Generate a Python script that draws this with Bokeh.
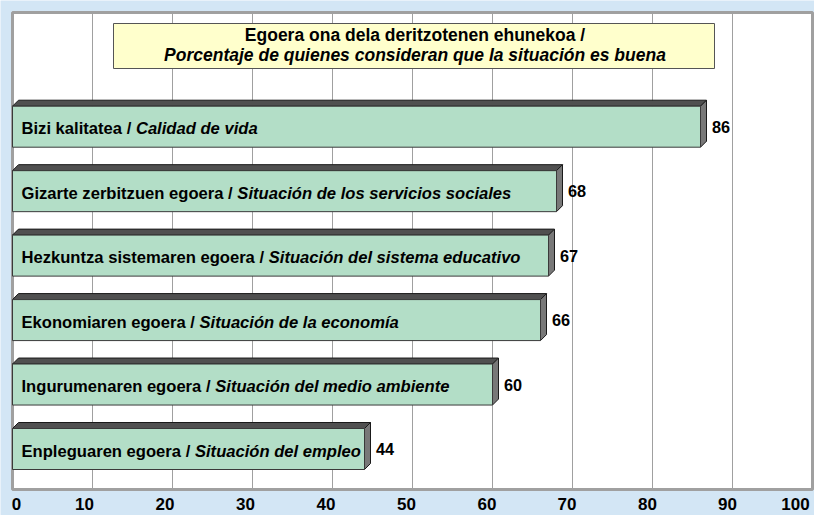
from bokeh.plotting import figure
from bokeh.models import ColumnDataSource, Range1d, Label, BoxAnnotation
from bokeh.core.properties import value
from bokeh.embed import file_html
from bokeh.resources import INLINE

# ---- data ----
labels_eu = ["Enpleguaren egoera", "Ingurumenaren egoera", "Ekonomiaren egoera",
             "Hezkuntza sistemaren egoera", "Gizarte zerbitzuen egoera", "Bizi kalitatea"]
labels_es = ["Situación del empleo", "Situación del medio ambiente", "Situación de la economía",
             "Situación del sistema educativo", "Situación de los servicios sociales", "Calidad de vida"]
percent = [44, 60, 66, 67, 68, 86]
x_ticks = [0, 10, 20, 30, 40, 50, 60, 70, 80, 90, 100]
title_eu = "Egoera ona dela deritzotenen ehunekoa /"
title_es = "Porcentaje de quienes consideran que la situación es buena"

# ---- layout (pixel geometry of the canvas) ----
W, H = 814, 515
X0_PX, PX_PER_X = 12.0, 8.0          # x=0 at 12px, 8 px per percent
ROW0_PX, PX_PER_ROW = 448.5, 64.46   # centre of bottom row, row pitch


def dx_(px):
    return px / PX_PER_X


def dy_(px):
    return px / PX_PER_ROW


def ydata(page_y):
    return (ROW0_PX - page_y) / PX_PER_ROW


x_range = Range1d(-X0_PX / PX_PER_X, (W - X0_PX) / PX_PER_X)
y_range = Range1d(ydata(H), ydata(0))

FNAME = "Liberation Sans"
FONT = value(FNAME)
BG = "#D3E6F5"
GRID = "#a0a0a0"

p = figure(width=W, height=H, x_range=x_range, y_range=y_range,
           x_axis_type=None, y_axis_type=None, toolbar_location=None,
           output_backend="svg", min_border_left=0, min_border_right=0,
           min_border_top=0, min_border_bottom=0)
p.background_fill_color = BG
p.border_fill_color = BG
p.outline_line_color = None
p.xgrid.visible = False
p.ygrid.visible = False

# plot area
pa_top, pa_bot = ydata(12), ydata(489)
p.quad(left=[x_ticks[0]], right=[x_ticks[-1]], top=[pa_top], bottom=[pa_bot],
       fill_color="white", line_color=GRID, line_width=3)
# vertical grid lines
gx = x_ticks[1:-1]
p.segment(x0=gx, x1=gx, y0=[pa_bot] * len(gx), y1=[pa_top] * len(gx),
          line_color=GRID, line_width=1)

# ---- bars with 3D depth ----
idx = list(range(len(percent)))
bar_h = dy_(41)
ddx, ddy = dx_(6), dy_(6)
top_xs, top_ys, side_xs, side_ys = [], [], [], []
for i, v in zip(idx, percent):
    t, b = i + bar_h / 2, i - bar_h / 2
    top_xs.append([0, ddx, v + ddx, v])
    top_ys.append([t, t + ddy, t + ddy, t])
    side_xs.append([v, v + ddx, v + ddx, v])
    side_ys.append([t, t + ddy, b + ddy, b])

p.patches(top_xs, top_ys, fill_color="#505050", line_color="#1a1a1a", line_width=1)
p.patches(side_xs, side_ys, fill_color="#787878", line_color="#1a1a1a", line_width=1)
p.hbar(y=idx, left=0, right=percent, height=bar_h, fill_color="#B3DEC7",
       line_color="#3a3a3a", line_width=1)

# ---- label texts (bold basque + bold italic spanish) ----
AW = {' ': 278, '/': 278, 'a': 556, 'b': 611, 'c': 556, 'd': 611, 'e': 556, 'f': 333, 'g': 611,
      'h': 611, 'i': 278, 'j': 278, 'k': 556, 'l': 278, 'm': 889, 'n': 611, 'o': 611, 'p': 611,
      'q': 611, 'r': 389, 's': 556, 't': 333, 'u': 611, 'v': 556, 'w': 778, 'x': 556, 'y': 556,
      'z': 500, 'B': 722, 'E': 667, 'G': 778, 'H': 722, 'I': 278}
LBL_FS = 16.6
lbl_x0 = 9
eu_txt = [s + " /" for s in labels_eu]
es_off = [lbl_x0 + sum(AW.get(c, 556) for c in s + " / ") * LBL_FS / 1000.0 for s in labels_eu]
src = ColumnDataSource(dict(y=idx, x0=[0] * len(idx), eu=eu_txt, es=labels_es, es_off=es_off,
                            v=percent, vt=[str(v) for v in percent]))
p.text(x="x0", y="y", text="eu", source=src, x_offset=lbl_x0, y_offset=2, text_baseline="middle",
       text_font=FONT, text_font_size=f"{LBL_FS}px", text_font_style="bold", text_color="black")
p.text(x="x0", y="y", text="es", source=src, x_offset="es_off", y_offset=2, text_baseline="middle",
       text_font=FONT, text_font_size=f"{LBL_FS}px", text_font_style="bold italic",
       text_color="black")
p.text(x="v", y="y", text="vt", source=src, x_offset=11.5, text_baseline="middle",
       text_font=FONT, text_font_size="16.3px", text_font_style="bold", text_color="black")

# ---- title box ----
box = BoxAnnotation(left=dx_(113 - X0_PX), right=dx_(714 - X0_PX), top=ydata(23), bottom=ydata(68),
                    fill_color="#FFFFCC", fill_alpha=1, line_color="#555555", line_width=1,
                    line_alpha=1)
p.add_layout(box)
tx = dx_(414.5 - X0_PX)
p.add_layout(Label(x=tx, y=ydata(34.5), text=title_eu, text_align="center", text_baseline="middle",
                   text_font=FNAME, text_font_size="17.5px", text_font_style="bold",
                   text_color="black"))
p.add_layout(Label(x=tx, y=ydata(54), text=title_es, text_align="center", text_baseline="middle",
                   text_font=FNAME, text_font_size="17.5px", text_font_style="bold italic",
                   text_color="black"))

# ---- x tick labels (along the percentage scale) ----
tick_off = [4, -8, -7.5, -7, -6.5, -6, -5.5, -5.5, -5, -5, -17]
tsrc = ColumnDataSource(dict(x=x_ticks, y=[ydata(503.5)] * len(x_ticks),
                             t=[str(t) for t in x_ticks], off=tick_off))
p.text(x="x", y="y", text="t", source=tsrc, x_offset="off", text_align="center",
       text_baseline="middle", text_font=FONT, text_font_size="17px",
       text_font_style="bold", text_color="black")

open("out.html", "w").write(file_html(p, INLINE))
